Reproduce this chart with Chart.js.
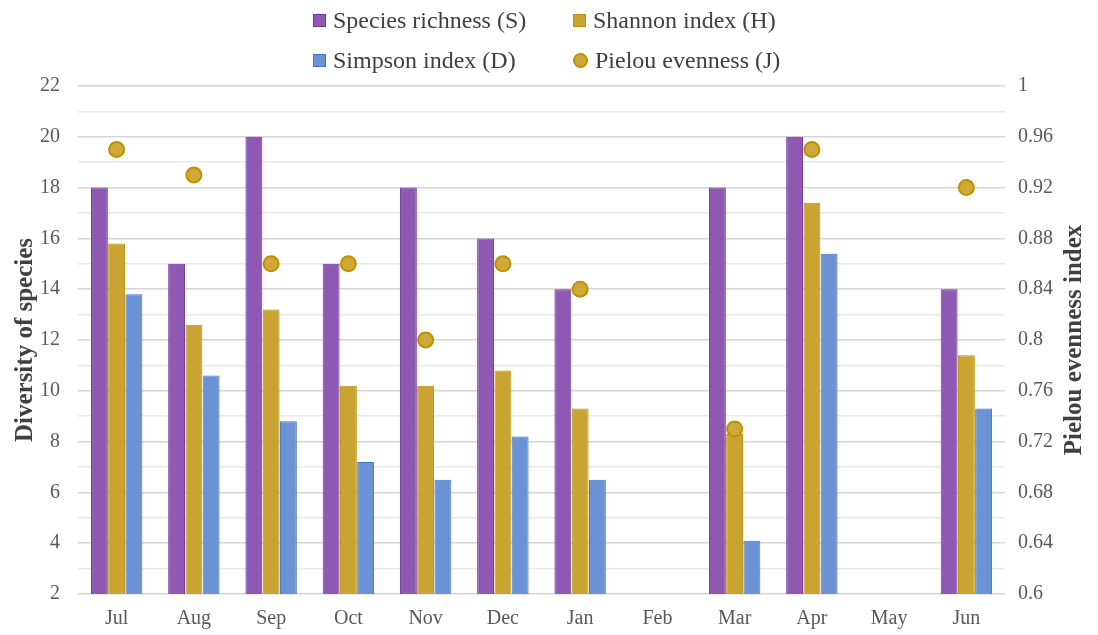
<!DOCTYPE html>
<html>
<head>
<meta charset="utf-8">
<script src="https://cdn.jsdelivr.net/npm/chart.js@4"></script>
<style>
  html, body { margin: 0; padding: 0; background: #fff; }
  #wrap { position: relative; width: 1098px; height: 635px; }
  #legend {
    position: absolute; left: 313px; top: 4px;
    display: grid; grid-template-columns: 260px 260px; row-gap: 8px;
    font-family: "Liberation Serif", serif; font-size: 24px; color: #404040;
  }
  .item { display: flex; align-items: center; height: 32px; }
  .sw { width: 13px; height: 13px; margin-right: 7px; box-sizing: border-box; border: 1px solid; }
  .sw.round { border-radius: 50%; width: 15px; height: 15px; border-width: 2px; }
</style>
</head>
<body>
<div id="wrap">
  <canvas id="chart" width="1098" height="635"></canvas>
  <div id="legend"></div>
</div>
<script>
// Data
const months = ['Jul', 'Aug', 'Sep', 'Oct', 'Nov', 'Dec', 'Jan', 'Feb', 'Mar', 'Apr', 'May', 'Jun'];
const richness = [18, 15, 20, 15, 18, 16, 14, null, 18, 20, null, 14];
const shannon = [15.8, 12.6, 13.2, 10.2, 10.2, 10.8, 9.3, null, 8.3, 17.4, null, 11.4];
const simpson = [13.8, 10.6, 8.8, 7.2, 6.5, 8.2, 6.5, null, 4.1, 15.4, null, 9.3];
const pielou = [0.95, 0.93, 0.86, 0.86, 0.80, 0.86, 0.84, null, 0.73, 0.95, null, 0.92];

const leftTicks = [2, 4, 6, 8, 10, 12, 14, 16, 18, 20, 22];
const rightTicks = [0.6, 0.64, 0.68, 0.72, 0.76, 0.8, 0.84, 0.88, 0.92, 0.96, 1];

const FONT = '"Liberation Serif", serif';
const rightTitle = 'Pielou evenness index';

// right axis title reads bottom-to-top like the left one
const rightTitlePlugin = {
    id: 'rightTitle',
    afterDraw(chart) {
        const c = chart.ctx;
        const area = chart.chartArea;
        c.save();
        c.translate(1075, (area.top + area.bottom) / 2);
        c.rotate(-Math.PI / 2);
        c.font = 'bold 25px ' + FONT;
        c.fillStyle = '#404040';
        c.textAlign = 'center';
        c.textBaseline = 'middle';
        c.fillText(rightTitle, 0, 0);
        c.restore();
    }
};

const ctx = document.getElementById('chart').getContext('2d');
const chart = new Chart(ctx, {
    type: 'bar',
    data: {
        labels: months,
        datasets: [
            {
                label: 'Species richness (S)',
                data: richness,
                backgroundColor: '#8e58b3',
                borderColor: '#7030a0',
                borderWidth: 1,
                yAxisID: 'y'
            },
            {
                label: 'Shannon index (H)',
                data: shannon,
                backgroundColor: '#c9a432',
                borderColor: '#bf9000',
                borderWidth: 1,
                yAxisID: 'y'
            },
            {
                label: 'Simpson index (D)',
                data: simpson,
                backgroundColor: '#6a92d4',
                borderColor: '#4472c4',
                borderWidth: 1,
                yAxisID: 'y'
            },
            {
                type: 'line',
                label: 'Pielou evenness (J)',
                data: pielou,
                showLine: false,
                pointRadius: 7.5,
                pointBorderWidth: 2,
                pointBackgroundColor: '#cfa83a',
                pointBorderColor: '#bf9000',
                backgroundColor: '#cfa83a',
                borderColor: '#bf9000',
                yAxisID: 'y1',
                order: -1
            }
        ]
    },
    options: {
        responsive: false,
        animation: false,
        layout: { padding: { top: 86, left: 0, right: 0, bottom: 0 } },
        datasets: {
            bar: { categoryPercentage: 0.67, barPercentage: 0.98 }
        },
        plugins: {
            legend: { display: false },
            tooltip: { enabled: false }
        },
        scales: {
            x: {
                grid: { display: false, drawTicks: false },
                border: { display: false },
                ticks: { font: { family: FONT, size: 20 }, color: '#595959', padding: 13 },
                afterFit: function(scale) { scale.height = 41; }
            },
            y: {
                position: 'left',
                min: 2,
                max: 22,
                z: 1,
                ticks: {
                    stepSize: 1,
                    autoSkip: false,
                    padding: 18,
                    font: { family: FONT, size: 20 },
                    color: '#595959',
                    callback: function(v) { return leftTicks.includes(v) ? String(v) : ''; }
                },
                grid: {
                    drawTicks: false,
                    color: function(c) {
                        return leftTicks.includes(c.tick.value) ? 'rgba(190,190,190,0.65)' : 'rgba(200,200,200,0.4)';
                    },
                    lineWidth: 1.5
                },
                border: { display: false },
                title: {
                    display: true,
                    text: 'Diversity of species',
                    font: { family: FONT, size: 25, weight: 'bold' },
                    color: '#404040',
                    padding: { top: 11, bottom: 0 }
                },
                afterFit: function(scale) { scale.width = 78; }
            },
            y1: {
                position: 'right',
                min: 0.6,
                max: 1,
                afterBuildTicks: function(scale) {
                    scale.ticks = rightTicks.map(v => ({ value: v }));
                },
                ticks: {
                    padding: 13,
                    font: { family: FONT, size: 20 },
                    color: '#595959',
                    callback: function(v) { return String(Math.round(v * 100) / 100); }
                },
                grid: { display: false, drawTicks: false },
                border: { display: false },
                afterFit: function(scale) { scale.width = 93; }
            }
        }
    },
    plugins: [rightTitlePlugin]
});

// HTML legend, two items per row, built from the chart's datasets
const legendEl = document.getElementById('legend');
chart.data.datasets.forEach(function(ds) {
    const item = document.createElement('div');
    item.className = 'item';
    const sw = document.createElement('span');
    sw.className = ds.type === 'line' ? 'sw round' : 'sw';
    sw.style.background = ds.backgroundColor;
    sw.style.borderColor = ds.borderColor;
    const txt = document.createElement('span');
    txt.textContent = ds.label;
    item.appendChild(sw);
    item.appendChild(txt);
    legendEl.appendChild(item);
});
</script>
</body>
</html>
